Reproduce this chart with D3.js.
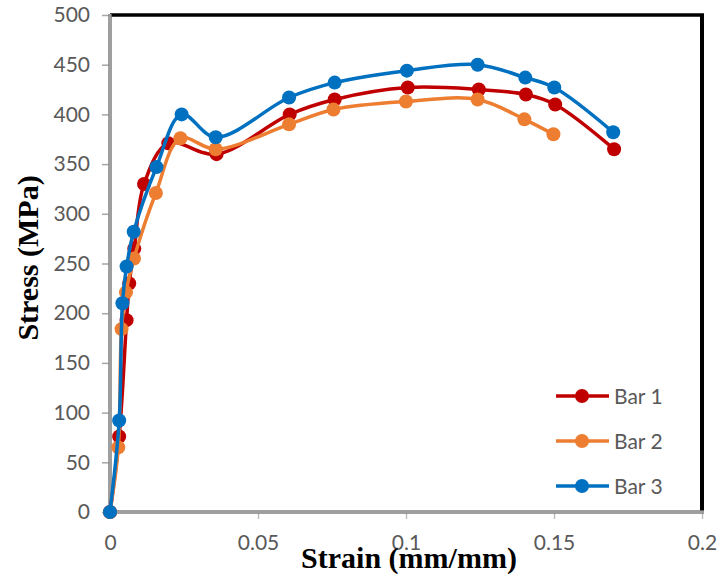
<!DOCTYPE html>
<html>
<head>
<meta charset="utf-8">
<script src="https://cdn.jsdelivr.net/npm/d3@7"></script>
<style>
  html, body { margin: 0; padding: 0; background: #fff; }
  svg { display: block; }
</style>
</head>
<body>
<svg id="chart" width="718" height="576"></svg>
<script>
// ---- Data ----
const seriesNames = ["Bar 1", "Bar 2", "Bar 3"];
const seriesColors = ["#C00000", "#ED7D31", "#0070C0"];

const bar1Strain = [0, 0.0031, 0.0056, 0.0065, 0.0082, 0.0115, 0.0197, 0.036, 0.0607, 0.0759, 0.1006, 0.1246, 0.1405, 0.1504, 0.1703];
const bar1Stress = [0, 76, 193, 230, 265, 330, 371, 360, 400, 415, 427, 425, 420, 410, 365];

const bar2Strain = [0, 0.0028, 0.0039, 0.0054, 0.0081, 0.0155, 0.0238, 0.0357, 0.0605, 0.0755, 0.1, 0.1242, 0.14, 0.1498];
const bar2Stress = [0, 65, 184, 221, 255, 321, 376, 365, 390, 405, 413, 415, 395, 380];

const bar3Strain = [0, 0.0031, 0.0042, 0.0056, 0.008, 0.0157, 0.0242, 0.0357, 0.0605, 0.0759, 0.1003, 0.1242, 0.1403, 0.1501, 0.170];
const bar3Stress = [0, 92, 210, 247, 282, 347, 400, 377, 417, 432, 444, 450, 437, 427, 382];

const xTicks = [0, 0.05, 0.1, 0.15, 0.2];
const yTicks = [0, 50, 100, 150, 200, 250, 300, 350, 400, 450, 500];

const xTitle = "Strain (mm/mm)";
const yTitle = "Stress (MPa)";

// ---- Layout ----
const svg = d3.select("#chart");
const pLeft = 110, pRight = 702, pTop = 15, pBottom = 512;

const x = d3.scaleLinear().domain([0, 0.2]).range([pLeft, pRight]);
const y = d3.scaleLinear().domain([0, 500]).range([pBottom, pTop]);

const tickFont = "Lato, 'Open Sans', sans-serif";
const tickColor = "#595959";

// Frame: top and right black borders
svg.append("line").attr("x1", pLeft).attr("x2", pRight + 2).attr("y1", pTop).attr("y2", pTop)
  .attr("stroke", "#000").attr("stroke-width", 3.5);
svg.append("line").attr("x1", pRight).attr("x2", pRight).attr("y1", pTop).attr("y2", pBottom)
  .attr("stroke", "#000").attr("stroke-width", 4);

// Y axis
const yAxis = svg.append("g").attr("transform", `translate(${pLeft},0)`)
  .call(d3.axisLeft(y).tickValues(yTicks).tickFormat(d3.format("d")).tickSize(8).tickPadding(12));
yAxis.select(".domain").remove();
yAxis.selectAll(".tick line").attr("stroke", "#A6A6A6").attr("stroke-width", 1.5);
yAxis.selectAll(".tick text").attr("fill", tickColor).style("font-family", tickFont).style("font-size", "21px");

// X axis
const xAxis = svg.append("g").attr("transform", `translate(0,${pBottom})`)
  .call(d3.axisBottom(x).tickValues(xTicks).tickFormat(d => d === 0 ? "0" : String(+d.toFixed(2))).tickSize(7).tickPadding(16));
xAxis.select(".domain").remove();
xAxis.selectAll(".tick line").attr("stroke", "#BFBFBF").attr("stroke-width", 1.5);
xAxis.selectAll(".tick text").attr("fill", tickColor).style("font-family", tickFont).style("font-size", "21px");

// Axis lines (gray, double-ish)
svg.append("line").attr("x1", pLeft).attr("x2", pLeft).attr("y1", pTop - 1).attr("y2", pBottom + 1)
  .attr("stroke", "#7F7F7F").attr("stroke-width", 3.5);
svg.append("line").attr("x1", pLeft).attr("x2", pLeft).attr("y1", pTop - 1).attr("y2", pBottom + 1)
  .attr("stroke", "#BFBFBF").attr("stroke-width", 1);
svg.append("line").attr("x1", pLeft - 1).attr("x2", pRight + 2).attr("y1", pBottom).attr("y2", pBottom)
  .attr("stroke", "#7F7F7F").attr("stroke-width", 3.5);
svg.append("line").attr("x1", pLeft - 1).attr("x2", pRight + 2).attr("y1", pBottom).attr("y2", pBottom)
  .attr("stroke", "#BFBFBF").attr("stroke-width", 1);

// Series
const series = [
  { name: seriesNames[0], color: seriesColors[0], xs: bar1Strain, ys: bar1Stress },
  { name: seriesNames[1], color: seriesColors[1], xs: bar2Strain, ys: bar2Stress },
  { name: seriesNames[2], color: seriesColors[2], xs: bar3Strain, ys: bar3Stress }
];

const line = d3.line().x(d => x(d[0])).y(d => y(d[1])).curve(d3.curveCatmullRom.alpha(0.5));

series.forEach(s => {
  const pts = s.xs.map((v, i) => [v, s.ys[i]]);
  const g = svg.append("g");
  g.append("path").datum(pts).attr("d", line).attr("fill", "none")
    .attr("stroke", s.color).attr("stroke-width", 3.5).attr("stroke-linejoin", "round");
  g.selectAll("circle").data(pts).join("circle")
    .attr("cx", d => x(d[0])).attr("cy", d => y(d[1])).attr("r", 7).attr("fill", s.color);
});

// Axis titles
svg.append("text").attr("x", 409).attr("y", 568).attr("text-anchor", "middle")
  .style("font-family", "'Liberation Serif', 'Times New Roman', serif").style("font-weight", "bold")
  .style("font-size", "30px").attr("fill", "#000").text(xTitle);
svg.append("text").attr("transform", "translate(38,258) rotate(-90)").attr("text-anchor", "middle")
  .style("font-family", "'Liberation Serif', 'Times New Roman', serif").style("font-weight", "bold")
  .style("font-size", "30px").attr("fill", "#000").text(yTitle);

// Legend
const legend = svg.append("g");
series.forEach((s, i) => {
  const ly = 396 + i * 45;
  legend.append("line").attr("x1", 556).attr("x2", 609).attr("y1", ly).attr("y2", ly)
    .attr("stroke", s.color).attr("stroke-width", 3.5);
  legend.append("circle").attr("cx", 582).attr("cy", ly).attr("r", 7).attr("fill", s.color);
  legend.append("text").attr("x", 614).attr("y", ly).attr("dy", "0.36em")
    .style("font-family", tickFont).style("font-size", "21px").attr("fill", tickColor).text(s.name);
});
</script>
</body>
</html>
